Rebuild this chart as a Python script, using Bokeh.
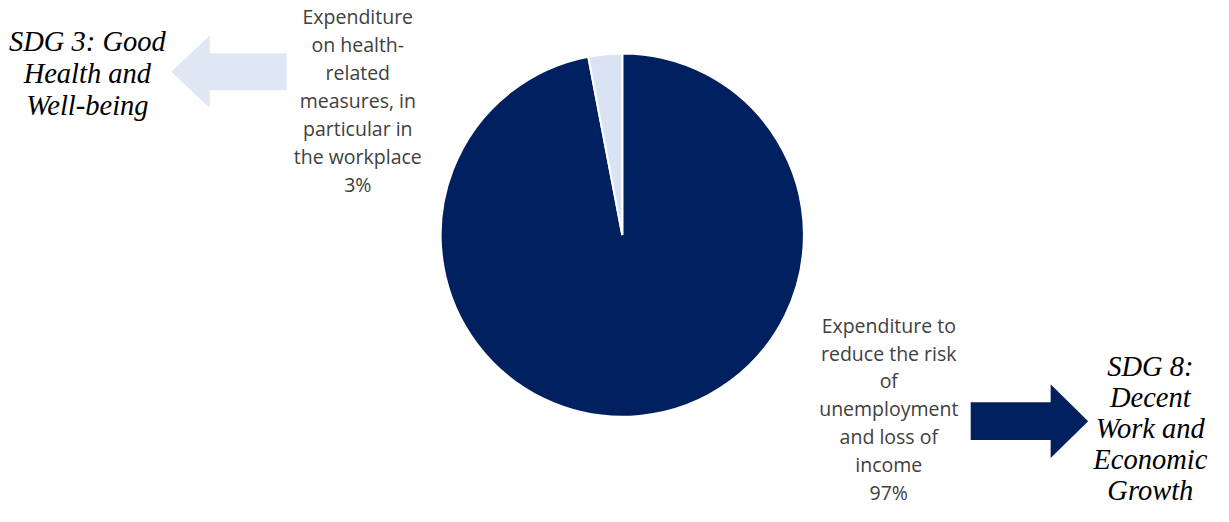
from bokeh.plotting import figure
from bokeh.models import Range1d, ColumnDataSource
from bokeh.core.properties import value
from bokeh.embed import file_html
from bokeh.resources import INLINE
import math

# ---- data ----
categories = ["Expenditure to reduce the risk of unemployment and loss of income",
              "Expenditure on health-related measures, in particular in the workplace"]
shares = [97, 3]
slice_colors = ["#002060", "#DAE3F3"]
label_lines_a = ["Expenditure to", "reduce the risk", "of", "unemployment", "and loss of", "income", "97%"]
label_lines_b = ["Expenditure", "on health-", "related", "measures, in", "particular in", "the workplace", "3%"]
sdg_a = ["SDG 8:", "Decent", "Work and", "Economic", "Growth"]
sdg_b = ["SDG 3: Good", "Health and", "Well-being"]

W, H = 1213, 506
p = figure(width=W, height=H, output_backend="svg", toolbar_location=None,
           x_range=Range1d(0, 1229), y_range=Range1d(0, 522), min_border=0)
p.axis.visible = False
p.grid.visible = False
p.outline_line_color = None

def Y(py):
    return 522 - py

# ---- pie ----
cx, cy, r = 630, Y(242), 184
total = sum(shares)
starts, ends = [], []
cum = 0.0
for s in shares:
    a0 = cum / total
    cum += s
    a1 = cum / total
    starts.append(math.pi / 2 - a1 * 2 * math.pi)
    ends.append(math.pi / 2 - a0 * 2 * math.pi)
src = ColumnDataSource(dict(x=[cx] * len(shares), y=[cy] * len(shares), start=starts, end=ends,
                            color=slice_colors, cat=categories))
p.wedge(x="x", y="y", radius=r, start_angle="start", end_angle="end", color="color",
        line_color="white", line_width=2, source=src)

# ---- arrows ----
def arrow(x_tail, x_base, x_tip, ymid, half_body, half_head):
    xs = [x_tail, x_base, x_base, x_tip, x_base, x_base, x_tail]
    ys = [ymid + half_body, ymid + half_body, ymid + half_head, ymid,
          ymid - half_head, ymid - half_body, ymid - half_body]
    return xs, ys

lx, ly = arrow(290, 212, 173, Y(73.5), 19, 37.5)
rx, ry = arrow(983, 1064, 1102, Y(434), 19.5, 38)
p.patches(xs=[lx, rx], ys=[ly, ry], fill_color=["#DEE7F3", "#002060"], line_color=None)

# ---- labels ----
def text_block(lines, xc, ytop, step, font, size, color, style="normal"):
    ys = [Y(ytop + i * step) for i in range(len(lines))]
    p.text(x=[xc] * len(lines), y=ys, text=lines, text_font=value(font),
           text_font_size=size, text_color=color, text_align="center",
           text_baseline="middle", text_font_style=style)

text_block(label_lines_b, 362, 16, 29, "Open Sans", "19.5px", "#404040")
text_block(label_lines_a, 900, 335, 28.7, "Open Sans", "19.5px", "#404040")
text_block(sdg_b, 88, 42, 33, "Liberation Serif", "28.5px", "#000000", "italic")
text_block(sdg_a, 1165, 378, 31.8, "Liberation Serif", "28.5px", "#000000", "italic")

open("out.html", "w").write(file_html(p, INLINE))
